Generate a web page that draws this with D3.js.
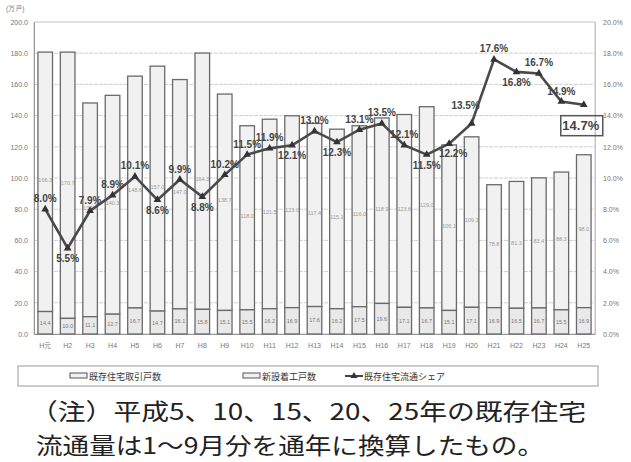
<!DOCTYPE html>
<html>
<head>
<meta charset="utf-8">
<script src="https://cdn.jsdelivr.net/npm/d3@7"></script>
<style>
  body { margin: 0; background: #fff; }
  svg { display: block; font-family: "Liberation Sans", Arial, sans-serif; }
</style>
</head>
<body>
<div id="chart"></div>
<script>
(() => {
  // data
  const years = ["H元","H2","H3","H4","H5","H6","H7","H8","H9","H10","H11","H12","H13",
                 "H14","H15","H16","H17","H18","H19","H20","H21","H22","H23","H24","H25"];
  const existing = [14.4,10.0,11.1,12.7,16.7,14.7,16.1,15.8,15.1,15.5,16.2,16.9,17.6,
                    16.2,17.5,19.6,17.1,16.7,15.1,17.1,16.9,16.5,16.7,15.5,16.9];
  const newStarts = [166.3,170.7,137.0,140.3,148.6,157.0,147.0,164.3,138.7,118.0,121.5,123.0,117.4,
                     115.1,116.0,118.9,123.6,129.0,106.1,109.3,78.8,81.3,83.4,88.3,98.0];
  const share = [8.0,5.5,7.9,8.9,10.1,8.6,9.9,8.8,10.2,11.5,11.9,12.1,13.0,
                 12.3,13.1,13.5,12.1,11.5,12.2,13.5,17.6,16.8,16.7,14.9,14.7];
  // where each share label sits relative to its marker
  const labelSide = ["u","d","u","u","u","d","u","d","u","u","u","d","u",
                     "d","u","u","u","d","r","l","u","d","u","u","box"];
  const leftTicks = [0,20,40,60,80,100,120,140,160,180,200];
  const rightTicks = [0,2,4,6,8,10,12,14,16,18,20];
  const legendItems = ["既存住宅取引戸数", "新設着工戸数", "既存住宅流通シェア"];
  const noteLines = ["（注）平成5、10、15、20、25年の既存住宅", "流通量は1～9月分を通年に換算したもの。"];

  const width = 631, height = 462;
  const m = { top: 22, right: 36, bottom: 128, left: 34 };

  const svg = d3.select("#chart").append("svg")
    .attr("width", width).attr("height", height);

  const x = d3.scaleBand().domain(years)
    .range([m.left, width - m.right]).paddingInner(0.35).paddingOuter(0.175);
  const y = d3.scaleLinear().domain([0, 200]).range([height - m.bottom, m.top]);
  const yR = d3.scaleLinear().domain([0, 20]).range([height - m.bottom, m.top]);

  // frame + gridlines
  svg.append("rect")
    .attr("x", m.left).attr("y", m.top)
    .attr("width", width - m.right - m.left).attr("height", y(0) - m.top)
    .attr("fill", "none").attr("stroke", "#c4c4c4");

  svg.append("g").selectAll("line")
    .data(leftTicks.slice(1, -1))
    .join("line")
    .attr("x1", m.left).attr("x2", width - m.right)
    .attr("y1", d => y(d)).attr("y2", d => y(d))
    .attr("stroke", "#cfcfcf").attr("stroke-dasharray", "4,1");

  // left axis
  const yAxis = svg.append("g").attr("transform", `translate(${m.left},0)`)
    .call(d3.axisLeft(y).tickValues(leftTicks).tickFormat(d3.format(".1f")).tickSize(0).tickPadding(6));
  yAxis.select(".domain").attr("stroke", "#999");
  yAxis.selectAll("text").attr("font-size", 7).attr("fill", "#777");

  // right axis
  const yRAxis = svg.append("g").attr("transform", `translate(${width - m.right},0)`)
    .call(d3.axisRight(yR).tickValues(rightTicks).tickFormat(d => d.toFixed(1) + "%").tickSize(0).tickPadding(8));
  yRAxis.select(".domain").attr("stroke", "#c4c4c4");
  yRAxis.selectAll("text").attr("font-size", 7).attr("fill", "#777");

  // x axis labels
  const xAxis = svg.append("g").attr("transform", `translate(0,${y(0)})`)
    .call(d3.axisBottom(x).tickSize(0).tickPadding(9));
  xAxis.select(".domain").attr("stroke", "#999");
  xAxis.selectAll("text").attr("font-size", 7).attr("fill", "#777");

  svg.append("text").attr("x", 6).attr("y", 11)
    .attr("font-size", 6.5).attr("fill", "#777").text("(万戸)");

  // stacked bars
  const rows = years.map((yr, i) => ({ yr, ex: existing[i], nw: newStarts[i] }));
  const bars = svg.append("g");
  bars.selectAll("rect.nw").data(rows).join("rect").attr("class", "nw")
    .attr("x", d => x(d.yr)).attr("width", x.bandwidth())
    .attr("y", d => y(d.ex + d.nw)).attr("height", d => y(d.ex) - y(d.ex + d.nw))
    .attr("fill", "#f1f1f1").attr("stroke", "#6a6a6a").attr("stroke-width", 1.3);
  bars.selectAll("rect.ex").data(rows).join("rect").attr("class", "ex")
    .attr("x", d => x(d.yr)).attr("width", x.bandwidth())
    .attr("y", d => y(d.ex)).attr("height", d => y(0) - y(d.ex))
    .attr("fill", "#e9e9e9").attr("stroke", "#6a6a6a").attr("stroke-width", 1.3);

  bars.selectAll("text.nwv").data(rows).join("text").attr("class", "nwv")
    .attr("x", d => x(d.yr) + x.bandwidth() / 2)
    .attr("y", d => y(d.ex + d.nw / 2))
    .attr("text-anchor", "middle").attr("font-size", 5.5).attr("fill", "#999")
    .text(d => d.nw.toFixed(1));
  bars.selectAll("text.exv").data(rows).join("text").attr("class", "exv")
    .attr("x", d => x(d.yr) + x.bandwidth() / 2)
    .attr("y", d => y(d.ex / 2) + 2)
    .attr("text-anchor", "middle").attr("font-size", 5.5).attr("fill", "#777")
    .text(d => d.ex.toFixed(1));

  // share line
  const cx = d => x(d) + x.bandwidth() / 2;
  const line = d3.line().x((d, i) => cx(years[i])).y(d => yR(d));
  svg.append("path").datum(share)
    .attr("fill", "none").attr("stroke", "#4a4a4a").attr("stroke-width", 2.6)
    .attr("d", line);
  svg.append("g").selectAll("path").data(share).join("path")
    .attr("transform", (d, i) => `translate(${cx(years[i])},${yR(d)})`)
    .attr("d", d3.symbol(d3.symbolTriangle, 26))
    .attr("fill", "#333");

  svg.append("g").selectAll("text").data(share).join("text")
    .attr("font-weight", "bold").attr("fill", "#444")
    .attr("text-anchor", "middle")
    .attr("x", (d, i) => {
      const s = labelSide[i], px = cx(years[i]);
      return s === "r" ? px + 4 : s === "l" ? px - 6 : s === "box" ? px - 3 : px;
    })
    .attr("y", (d, i) => {
      const s = labelSide[i], py = yR(d);
      return s === "u" ? py - 7 : s === "d" ? py + 14 : s === "r" ? py + 13 : s === "l" ? py - 14 : py + 25;
    })
    .attr("font-size", (d, i) => labelSide[i] === "box" ? 13 : 10)
    .text(d => d.toFixed(1) + "%");

  // box around the latest value
  const last = share.length - 1;
  svg.append("rect")
    .attr("x", cx(years[last]) - 23).attr("y", yR(share[last]) + 11)
    .attr("width", 42).attr("height", 20)
    .attr("fill", "none").attr("stroke", "#555").attr("stroke-width", 1.5);

  // legend
  const lg = svg.append("g");
  lg.append("rect").attr("x", 18).attr("y", 366).attr("width", 580).attr("height", 20)
    .attr("fill", "#fff").attr("stroke", "#999");
  const lx = [70, 243, 345];
  lg.append("rect").attr("x", lx[0]).attr("y", 373).attr("width", 17).attr("height", 5)
    .attr("fill", "#f1f1f1").attr("stroke", "#555");
  lg.append("rect").attr("x", lx[1]).attr("y", 373).attr("width", 17).attr("height", 5)
    .attr("fill", "#f1f1f1").attr("stroke", "#555");
  lg.append("line").attr("x1", lx[2]).attr("x2", lx[2] + 18).attr("y1", 376).attr("y2", 376)
    .attr("stroke", "#444").attr("stroke-width", 2);
  lg.append("path").attr("transform", `translate(${lx[2] + 9},376)`)
    .attr("d", d3.symbol(d3.symbolTriangle, 22)).attr("fill", "#333");
  lg.selectAll("text").data(legendItems).join("text")
    .attr("x", (d, i) => lx[i] + 19).attr("y", 380)
    .attr("font-family", "'Noto Sans CJK JP', sans-serif")
    .attr("font-size", 9).attr("fill", "#333")
    .text(d => d);

  // note
  svg.append("g").selectAll("text").data(noteLines).join("text")
    .attr("x", (d, i) => i === 0 ? 30 : 36)
    .attr("y", (d, i) => 420 + i * 34)
    .attr("font-family", "'Noto Sans CJK JP', sans-serif")
    .attr("font-size", 23).attr("fill", "#222")
    .attr("textLength", (d, i) => i === 0 ? 556 : 508)
    .attr("lengthAdjust", "spacingAndGlyphs")
    .text(d => d);
})();
</script>
</body>
</html>
